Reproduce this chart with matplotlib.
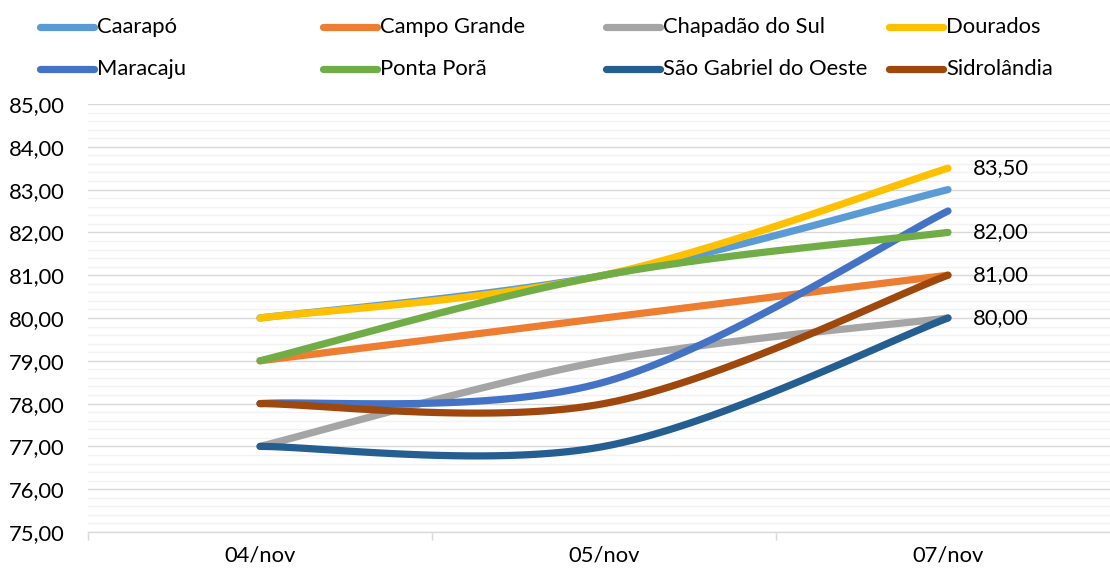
import numpy as np
import matplotlib
matplotlib.use("Agg")
import matplotlib.pyplot as plt
from matplotlib.lines import Line2D
from matplotlib.ticker import MultipleLocator, FuncFormatter

categories = ["04/nov", "05/nov", "07/nov"]
series_names = ["Caarapó", "Campo Grande", "Chapadão do Sul", "Dourados",
                "Maracaju", "Ponta Porã", "São Gabriel do Oeste", "Sidrolândia"]
caarapo = [80.0, 81.0, 83.0]
campo_grande = [79.0, 80.0, 81.0]
chapadao = [77.0, 79.0, 80.0]
dourados = [80.0, 81.0, 83.5]
maracaju = [78.0, 78.5, 82.5]
ponta_pora = [79.0, 81.0, 82.0]
sao_gabriel = [77.0, 77.0, 80.0]
sidrolandia = [78.0, 78.0, 81.0]
values = [caarapo, campo_grande, chapadao, dourados, maracaju, ponta_pora, sao_gabriel, sidrolandia]
labeled = [False, False, False, True, False, True, True, True]  # series with a data label on last point

colors = ["#5B9BD5", "#ED7D31", "#A5A5A5", "#FFC000",
          "#4472C4", "#70AD47", "#255E91", "#9E480E"]

plt.rcParams['font.family'] = ['Lato', 'DejaVu Sans']

def excel_smooth(xs, ys, n=60):
    pts = np.column_stack([xs, ys]).astype(float)
    m = len(pts)
    out = []
    for i in range(m - 1):
        p0 = pts[max(i - 1, 0)]
        p1 = pts[i]
        p2 = pts[i + 1]
        p3 = pts[min(i + 2, m - 1)]
        c1 = p1 + (p2 - p0) / 6.0
        c2 = p2 - (p3 - p1) / 6.0
        t = np.linspace(0, 1, n)[:, None]
        seg = ((1 - t) ** 3) * p1 + 3 * ((1 - t) ** 2) * t * c1 + 3 * (1 - t) * t ** 2 * c2 + t ** 3 * p2
        if i > 0:
            seg = seg[1:]
        out.append(seg)
    out = np.vstack(out)
    return out[:, 0], out[:, 1]

W, H = 1110, 570
fig = plt.figure(figsize=(W / 100, H / 100), dpi=100)
left, right, bottom, top = 88, 1120, 532, 104
ax = fig.add_axes([left / W, (H - bottom) / H, (right - left) / W, (bottom - top) / H])

x = np.arange(len(categories))
for name, vals, c, lab in zip(series_names, values, colors, labeled):
    sx, sy = excel_smooth(x, vals)
    ax.plot(sx, sy, color=c, lw=5.2, solid_capstyle='round', solid_joinstyle='round', zorder=3)
    if lab:
        ax.annotate(f"{vals[-1]:.2f}".replace('.', ','), (x[-1], vals[-1]),
                    xytext=(18, 0), textcoords='offset points', va='center', ha='left',
                    fontsize=15.8, color='#000000')

ax.set_xlim(-0.5, len(categories) - 0.5)
ax.set_ylim(75, 85)
ax.yaxis.set_major_locator(MultipleLocator(1))
ax.yaxis.set_minor_locator(MultipleLocator(0.2))
ax.yaxis.set_major_formatter(FuncFormatter(lambda v, p: f"{v:.2f}".replace('.', ',')))
ax.grid(which='major', axis='y', color='#D9D9D9', lw=1.0, zorder=1)
ax.grid(which='minor', axis='y', color='#F2F2F2', lw=1.0, zorder=0)
ax.set_axisbelow(True)

ax.set_xticks(x)
ax.set_xticklabels(categories)
ax.set_xticks(np.arange(-0.5, len(categories)), minor=True)
ax.tick_params(axis='x', which='major', length=0, pad=10, labelsize=15.8)
ax.tick_params(axis='x', which='minor', length=6, color='#D9D9D9', width=1)
ax.tick_params(axis='y', which='both', length=0, pad=17, labelsize=15.8)
for s in ['top', 'right', 'left']:
    ax.spines[s].set_visible(False)
ax.spines['bottom'].set_color('#D9D9D9')
ax.spines['bottom'].set_linewidth(1.0)

# legend (manual, Excel-like equal columns)
for i, (name, c) in enumerate(zip(series_names, colors)):
    row, col = divmod(i, 4)
    y = 1 - (27 + 42 * row) / H
    x0 = (40 + 283 * col) / W
    x1 = (94 + 283 * col) / W
    fig.add_artist(Line2D([x0, x1], [y, y], color=c, lw=5.2, solid_capstyle='round',
                          transform=fig.transFigure))
    fig.text((97 + 283 * col) / W, y, name, va='center', ha='left', fontsize=15.8)

fig.savefig("out.png", dpi=100)
